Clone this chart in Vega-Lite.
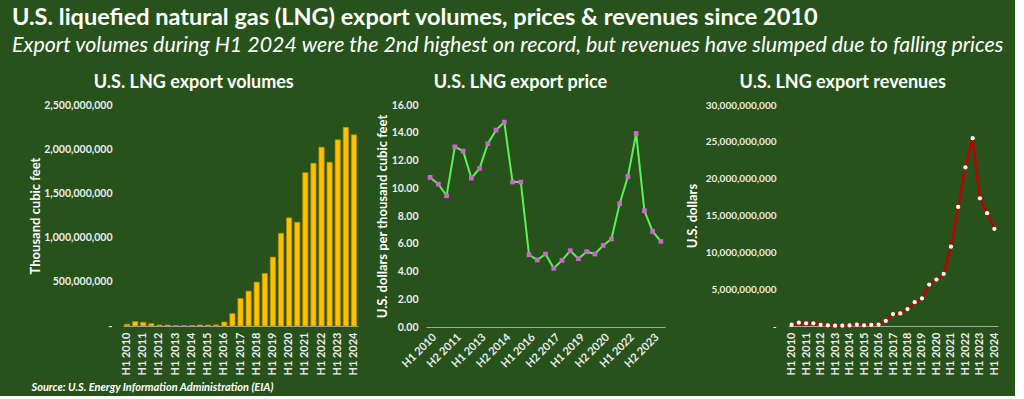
{
  "$schema": "https://vega.github.io/schema/vega-lite/v6.json",
  "background": "#28521b",
  "padding": {"left": 12, "top": 6, "right": 10, "bottom": 4},
  "title": {
    "text": "U.S. liquefied natural gas (LNG) export volumes, prices & revenues since 2010",
    "subtitle": "Export volumes during H1 2024 were the 2nd highest on record, but revenues have slumped due to falling prices",
    "anchor": "start",
    "dx": -17,
    "font": "Lato",
    "fontSize": 23.5,
    "fontWeight": "bold",
    "color": "#ffffff",
    "subtitleFont": "Lato",
    "subtitleFontSize": 21.4,
    "subtitleFontStyle": "italic",
    "subtitleColor": "#ffffff",
    "subtitlePadding": 5,
    "offset": 18
  },
  "data": {
    "values": [
      {"period": "H1 2010", "volume": 20000000, "price": 10.78, "revenue": 180000000},
      {"period": "H2 2010", "volume": 50000000, "price": 10.30, "revenue": 450000000},
      {"period": "H1 2011", "volume": 42000000, "price": 9.46, "revenue": 370000000},
      {"period": "H2 2011", "volume": 27000000, "price": 12.99, "revenue": 360000000},
      {"period": "H1 2012", "volume": 12000000, "price": 12.68, "revenue": 160000000},
      {"period": "H2 2012", "volume": 11000000, "price": 10.73, "revenue": 100000000},
      {"period": "H1 2013", "volume": 5000000, "price": 11.43, "revenue": 40000000},
      {"period": "H2 2013", "volume": 5000000, "price": 13.21, "revenue": 50000000},
      {"period": "H1 2014", "volume": 7000000, "price": 14.19, "revenue": 70000000},
      {"period": "H2 2014", "volume": 12000000, "price": 14.77, "revenue": 180000000},
      {"period": "H1 2015", "volume": 11000000, "price": 10.45, "revenue": 100000000},
      {"period": "H2 2015", "volume": 13000000, "price": 10.45, "revenue": 160000000},
      {"period": "H1 2016", "volume": 45000000, "price": 5.21, "revenue": 200000000},
      {"period": "H2 2016", "volume": 140000000, "price": 4.83, "revenue": 680000000},
      {"period": "H1 2017", "volume": 311000000, "price": 5.26, "revenue": 1620000000},
      {"period": "H2 2017", "volume": 394000000, "price": 4.23, "revenue": 1710000000},
      {"period": "H1 2018", "volume": 496000000, "price": 4.80, "revenue": 2300000000},
      {"period": "H2 2018", "volume": 595000000, "price": 5.50, "revenue": 3240000000},
      {"period": "H1 2019", "volume": 780000000, "price": 4.92, "revenue": 3740000000},
      {"period": "H2 2019", "volume": 1049000000, "price": 5.43, "revenue": 5630000000},
      {"period": "H1 2020", "volume": 1223000000, "price": 5.26, "revenue": 6310000000},
      {"period": "H2 2020", "volume": 1174000000, "price": 5.88, "revenue": 7070000000},
      {"period": "H1 2021", "volume": 1735000000, "price": 6.34, "revenue": 10770000000},
      {"period": "H2 2021", "volume": 1841000000, "price": 8.89, "revenue": 16170000000},
      {"period": "H1 2022", "volume": 2023000000, "price": 10.85, "revenue": 21530000000},
      {"period": "H2 2022", "volume": 1852000000, "price": 13.95, "revenue": 25500000000},
      {"period": "H1 2023", "volume": 2106000000, "price": 8.38, "revenue": 17340000000},
      {"period": "H2 2023", "volume": 2247000000, "price": 6.89, "revenue": 15320000000},
      {"period": "H1 2024", "volume": 2163000000, "price": 6.17, "revenue": 13200000000}
    ]
  },
  "spacing": 17,
  "config": {
    "view": {"stroke": null},
    "font": "Lato",
    "axis": {
      "grid": false,
      "ticks": false,
      "labelColor": "#ececec",
      "labelFont": "Lato",
      "labelFontSize": 11,
      "labelFontWeight": "bold",
      "titleColor": "#ffffff",
      "titleFont": "Lato",
      "titleFontSize": 13,
      "titleFontWeight": "bold",
      "domainColor": "#a6a6a6",
      "domainWidth": 1.2
    },
    "axisY": {"domain": false},
    "title": {"color": "#ffffff", "font": "Lato", "fontSize": 18, "fontWeight": "bold", "anchor": "middle", "frame": "bounds", "offset": 8}
  },
  "hconcat": [
    {
      "width": 235,
      "height": 221,
      "title": "U.S. LNG export volumes",
      "mark": {"type": "bar", "color": "#ffc000", "stroke": "#b58a00", "strokeWidth": 0.7},
      "encoding": {
        "x": {
          "field": "period", "type": "nominal", "sort": null,
          "scale": {"paddingInner": 0.35, "paddingOuter": 0.175},
          "axis": {
            "labelAngle": -90,
            "labelPadding": 6,
            "values": ["H1 2010", "H1 2011", "H1 2012", "H1 2013", "H1 2014", "H1 2015", "H1 2016", "H1 2017", "H1 2018", "H1 2019", "H1 2020", "H1 2021", "H1 2022", "H1 2023", "H1 2024"],
            "title": "Source: U.S. Energy Information Administration (EIA)",
            "titleFontSize": 11,
            "titleFontStyle": "italic",
            "titleX": -92,
            "titleY": 55,
            "titleAlign": "left"
          }
        },
        "y": {
          "field": "volume", "type": "quantitative",
          "scale": {"domain": [0, 2500000000]},
          "axis": {
            "title": "Thousand cubic feet",
            "values": [0, 500000000, 1000000000, 1500000000, 2000000000, 2500000000],
            "labelExpr": "datum.value == 0 ? '-' : format(datum.value, ',')",
            "labelFontSize": 10.5,
            "labelPadding": 11,
            "minExtent": 75, "maxExtent": 75, "titlePadding": 6
          }
        }
      }
    },
    {
      "spacing": 21,
      "hconcat": [
        {
          "width": 239,
          "height": 222,
          "title": "U.S. LNG export price",
          "encoding": {
            "x": {
              "field": "period", "type": "nominal", "sort": null,
              "scale": {"type": "point", "padding": 0.5},
              "axis": {
                "labelAngle": -45,
                "labelPadding": 4,
                "values": ["H1 2010", "H2 2011", "H1 2013", "H2 2014", "H1 2016", "H2 2017", "H1 2019", "H2 2020", "H1 2022", "H2 2023"],
                "title": null
              }
            },
            "y": {
              "field": "price", "type": "quantitative",
              "scale": {"domain": [0, 16]},
              "axis": {
                "title": "U.S. dollars per thousand cubic feet",
                "values": [0, 2, 4, 6, 8, 10, 12, 14, 16],
                "format": ".2f",
                "labelFontSize": 10.5,
                "labelPadding": 8,
                "minExtent": 31, "maxExtent": 31, "titlePadding": 6
              }
            }
          },
          "layer": [
            {"mark": {"type": "line", "color": "#5cf05c", "strokeWidth": 2}},
            {"mark": {"type": "point", "shape": "square", "filled": true, "color": "#cc66cc", "opacity": 1, "size": 22}}
          ]
        },
        {
          "width": 210,
          "height": 221,
          "title": "U.S. LNG export revenues",
          "encoding": {
            "x": {
              "field": "period", "type": "nominal", "sort": null,
              "scale": {"type": "point", "padding": 0.5},
              "axis": {
                "labelAngle": -90,
                "labelPadding": 6,
                "values": ["H1 2010", "H1 2011", "H1 2012", "H1 2013", "H1 2014", "H1 2015", "H1 2016", "H1 2017", "H1 2018", "H1 2019", "H1 2020", "H1 2021", "H1 2022", "H1 2023", "H1 2024"],
                "title": null
              }
            },
            "y": {
              "field": "revenue", "type": "quantitative",
              "scale": {"domain": [0, 30000000000]},
              "axis": {
                "title": "U.S. dollars",
                "values": [0, 5000000000, 10000000000, 15000000000, 20000000000, 25000000000, 30000000000],
                "labelExpr": "datum.value == 0 ? '-' : format(datum.value, ',')",
                "labelFontSize": 10,
                "labelPadding": 12,
                "minExtent": 83, "maxExtent": 83, "titlePadding": 6
              }
            }
          },
          "layer": [
            {"mark": {"type": "line", "color": "#c00000", "strokeWidth": 2.5}},
            {"mark": {"type": "circle", "color": "#ffffff", "opacity": 1, "size": 18}}
          ]
        }
      ]
    }
  ]
}
